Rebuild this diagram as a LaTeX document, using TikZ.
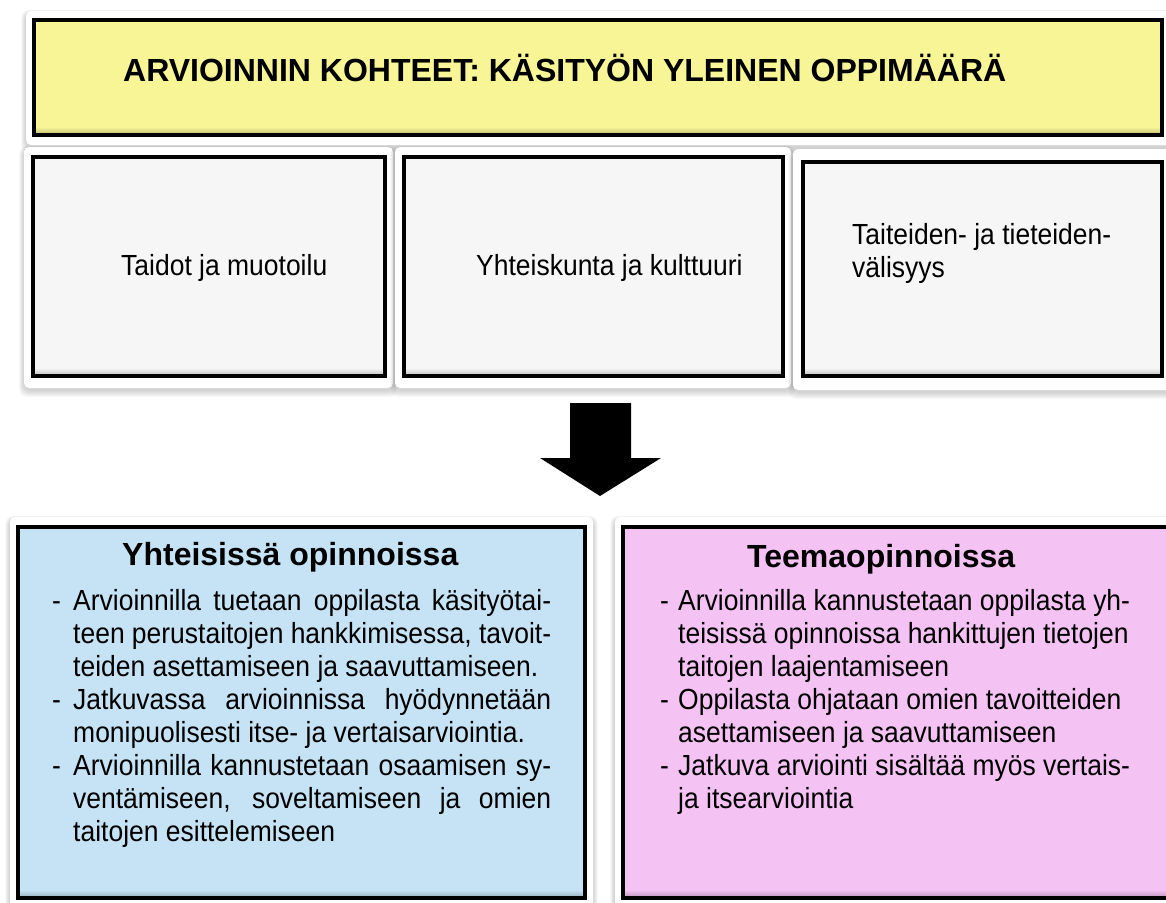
\documentclass[tikz,border=0pt]{standalone}
\usepackage{fontspec}
\setmainfont{Liberation Sans}
\newfontfamily\bodyfont[FakeStretch=0.91]{Liberation Sans}
\usetikzlibrary{calc}
\definecolor{boxyellow}{RGB}{247,245,150}
\definecolor{boxgrey}{RGB}{246,246,246}
\definecolor{boxblue}{RGB}{197,227,245}
\definecolor{boxpink}{RGB}{245,194,244}
\tikzset{
  frame/.style={draw=black, line width=4.5pt},
  heading/.style={font=\fontsize{32}{38}\selectfont\bfseries, inner sep=0pt},
  body/.style={font=\bodyfont\fontsize{29.1}{33}\selectfont, inner sep=0pt}
}
\def\panel(#1,#2)(#3,#4){%
  \foreach \s in {1,...,8}
    \fill[black, opacity=0.025, rounded corners=8pt] (#1-\s*0.6, #2-\s*0.4+2) rectangle (#3+\s*0.6, #4+\s*0.9+2);
  \fill[white, rounded corners=5pt] (#1,#2) rectangle (#3,#4);}
\def\tile(#1,#2)(#3,#4)#5{%
  \fill[#5] (#1,#2) rectangle (#3,#4);
  \shade[top color=#5, bottom color=#5!75!black] (#1,#4-8) rectangle (#3,#4);
  \draw[frame] (#1,#2) rectangle (#3,#4);}
\newcommand\bul[1]{\makebox[#1][l]{-}}

\begin{document}
\begin{tikzpicture}[x=1pt, y=-1pt]
			%%%%% START %%%%%
			\useasboundingbox (0,0) rectangle (1166,902);
			
			\panel(26,11)(1178,145)
			\tile(34,20)(1162,135){boxyellow}
			\node[heading, anchor=base west] (title) at (123,81) {ARVIOINNIN KOHTEET: KÄSITYÖN YLEINEN OPPIMÄÄRÄ};
			
			\panel(24,147)(393,388)
			\tile(33,157)(385,376){boxgrey}
			\node[body, anchor=base west] (taidot) at (121,275) {Taidot ja muotoilu};
			
			\panel(395,147)(791,388)
			\tile(404,157)(783,376){boxgrey}
			\node[body, anchor=base west] (yhteiskunta) at (476,275) {Yhteiskunta ja kulttuuri};
			
			\panel(793,149)(1178,390)
			\tile(803,162)(1162,376){boxgrey}
			\node[body, anchor=base west] (taiteet) at (852,244) {\begin{tabular}[t]{@{}l@{}}Taiteiden- ja tieteiden-\\välisyys\end{tabular}};
			
			\fill[black] (570,403) -- (631,403) -- (631,458) -- (661,458) -- (600,496) -- (540,458) -- (570,458) -- cycle;
			
			\panel(10,517)(593,918)
			\tile(18,527)(585,898){boxblue}
			\node[heading, anchor=base west] (yhteiset) at (122,565) {Yhteisissä opinnoissa};
			\node[body, anchor=base west] (yhteisetlist) at (52,610) {\begin{tabular}[t]{@{}l@{}}
				\bul{21pt}\makebox[478pt][s]{Arvioinnilla tuetaan oppilasta käsityötai-}\\
				\hspace*{21pt}\makebox[478pt][s]{teen perustaitojen hankkimisessa, tavoit-}\\
				\hspace*{21pt}teiden asettamiseen ja saavuttamiseen.\\
				\bul{21pt}\makebox[478pt][s]{Jatkuvassa arvioinnissa hyödynnetään}\\
				\hspace*{21pt}monipuolisesti itse- ja vertaisarviointia.\\
				\bul{21pt}\makebox[478pt][s]{Arvioinnilla kannustetaan osaamisen sy-}\\
				\hspace*{21pt}\makebox[478pt][s]{ventämiseen, soveltamiseen ja omien}\\
				\hspace*{21pt}taitojen esittelemiseen
			\end{tabular}};
			
			\panel(615,517)(1178,918)
			\tile(623,527)(1178,898){boxpink}
			\node[heading, anchor=base west] (teema) at (747,567) {Teemaopinnoissa};
			\node[body, anchor=base west] (teemalist) at (660,610) {\begin{tabular}[t]{@{}l@{}}
				\bul{18pt}Arvioinnilla kannustetaan oppilasta yh-\\
				\hspace*{18pt}teisissä opinnoissa hankittujen tietojen\\
				\hspace*{18pt}taitojen laajentamiseen\\
				\bul{18pt}Oppilasta ohjataan omien tavoitteiden\\
				\hspace*{18pt}asettamiseen ja saavuttamiseen\\
				\bul{18pt}Jatkuva arviointi sisältää myös vertais-\\
				\hspace*{18pt}ja itsearviointia
			\end{tabular}};
			
			%%%%% END %%%%%
\end{tikzpicture}
\end{document}
